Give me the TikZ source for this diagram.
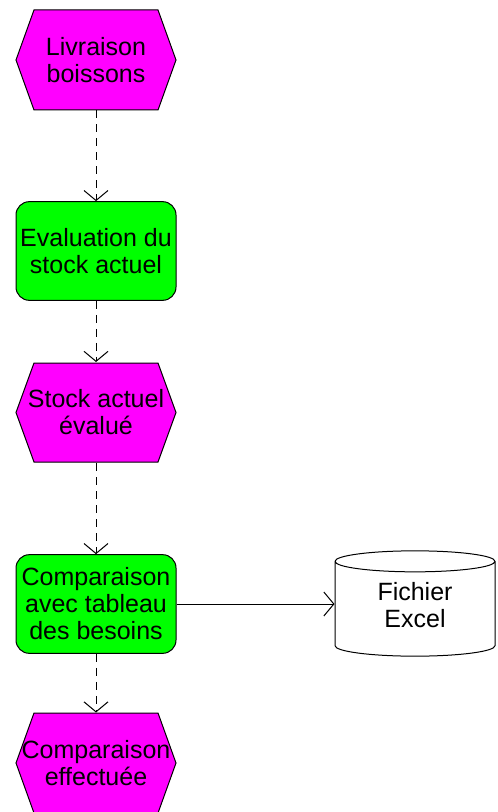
\documentclass[tikz,border=0pt]{standalone}
\usepackage{fontspec}
\setmainfont{Liberation Sans}
\usetikzlibrary{arrows.meta, shapes.geometric}

\definecolor{evtmagenta}{RGB}{255,0,255}
\definecolor{taskgreen}{RGB}{0,255,0}

\begin{document}
\begin{tikzpicture}[x=0.75pt, y=-0.75pt, >={Straight Barb[length=7.5pt, width=18pt]}, line width=0.75pt]
	% -------- Tunables --------
	\def\W{120pt}        % box width (160 px)
	\def\H{74pt}         % box height (~99 px)
	\def\xc{96}          % centre column
	
	\tikzset{
		txt/.style={font=\fontsize{18.75pt}{20.25pt}\selectfont, align=center},
		event/.style={txt, rectangle, minimum width=\W, minimum height=75pt, inner sep=0pt},
		task/.style={txt, rectangle, rounded corners=10pt, draw, fill=taskgreen,
			minimum width=\W, minimum height=\H, inner sep=0pt},
		store/.style={txt, cylinder, shape border rotate=90, aspect=0.28, draw, fill=white,
			minimum width=\W, minimum height=79pt, inner sep=0pt},
		flow/.style={->, dash pattern=on 6pt off 4.5pt},
	}
	
	\useasboundingbox (0,0) rectangle (498,812);
	
	% Hexagons of the events (centre y / half height)
	\foreach \y/\h in {60/50, 412.5/49.5, 763/50}
		\filldraw[fill=evtmagenta] (\xc-62,\y-\h) -- (\xc+62,\y-\h) -- (\xc+80,\y)
			-- (\xc+62,\y+\h) -- (\xc-62,\y+\h) -- (\xc-80,\y) -- cycle;
	
	% Events and tasks
	\node[event] (livraison)  at (\xc,60)    {Livraison\\boissons};
	\node[task]  (evaluation) at (\xc,251)   {Evaluation du\\stock actuel};
	\node[event] (evalue)     at (\xc,412.5) {Stock actuel\\évalué};
	\node[task]  (comparaison) at (\xc,604)  {Comparaison\\avec tableau\\des besoins};
	\node[event] (effectuee)  at (\xc,763)   {Comparaison\\effectuée};
	
	% Data store
	\node[store] (excel) at (415,609) {\raisebox{4pt}{\begin{tabular}{@{}c@{}}Fichier\\Excel\end{tabular}}};
	
	% Control flow
	\foreach \a/\b in {livraison/evaluation, evaluation/evalue, evalue/comparaison, comparaison/effectuee}
		\draw[flow] (\a) -- (\b);
	
	% Output to file
	\draw[->] (comparaison) -- (comparaison -| excel.west);
\end{tikzpicture}
\end{document}
